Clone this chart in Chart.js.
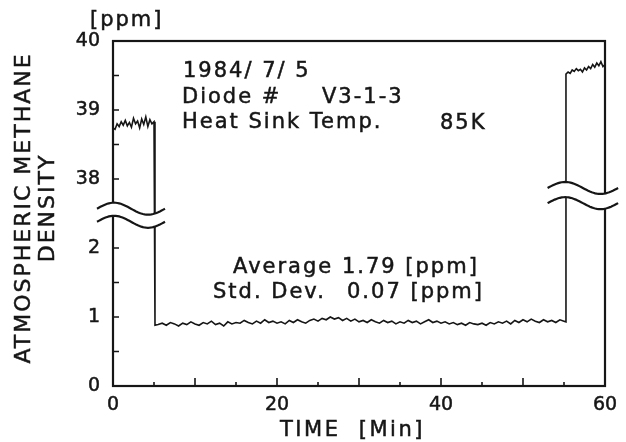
<!DOCTYPE html>
<html>
<head>
<meta charset="utf-8">
<script src="https://cdn.jsdelivr.net/npm/chart.js@4.4.1/dist/chart.umd.min.js"></script>
<style>
  html, body { margin: 0; padding: 0; background: #fff; }
  #c { display: block; }
</style>
</head>
<body>
<canvas id="c" width="626" height="442"></canvas>
<script>
// Methane trace, broken y axis (0..2.5 ppm below the break, 37.5..40 above)
const leftTime = [0, 0.25, 0.5, 0.75, 1, 1.25, 1.5, 1.75, 2, 2.25, 2.5, 2.75, 3, 3.25, 3.5, 3.75, 4, 4.25, 4.5, 4.75, 5, 5.12];
const leftPpm  = [38.74, 38.72, 38.80, 38.76, 38.83, 38.78, 38.85, 38.77, 38.82, 38.75, 38.88, 38.80, 38.84, 38.74, 38.87, 38.79, 38.90, 38.76, 38.86, 38.80, 38.83, 38.76];

const baseTime = [5.12, 5.5, 6, 6.5, 7, 7.5, 8, 8.5, 9, 9.5, 10,
  10.5, 11, 11.5, 12, 12.5, 13, 13.5, 14, 14.5, 15,
  15.5, 16, 16.5, 17, 17.5, 18, 18.5, 19, 19.5, 20,
  20.5, 21, 21.5, 22, 22.5, 23, 23.5, 24, 24.5, 25,
  25.5, 26, 26.5, 27, 27.5, 28, 28.5, 29, 29.5, 30,
  30.5, 31, 31.5, 32, 32.5, 33, 33.5, 34, 34.5, 35,
  35.5, 36, 36.5, 37, 37.5, 38, 38.5, 39, 39.5, 40,
  40.5, 41, 41.5, 42, 42.5, 43, 43.5, 44, 44.5, 45,
  45.5, 46, 46.5, 47, 47.5, 48, 48.5, 49, 49.5, 50,
  50.5, 51, 51.5, 52, 52.5, 53, 53.5, 54, 54.5, 55, 55.24];
const basePpm = [0.88, 0.89, 0.91, 0.88, 0.92, 0.90, 0.87, 0.91, 0.89, 0.93, 0.90,
  0.88, 0.92, 0.90, 0.94, 0.89, 0.91, 0.87, 0.93, 0.90, 0.92,
  0.91, 0.95, 0.92, 0.90, 0.94, 0.91, 0.96, 0.92, 0.94, 0.91,
  0.93, 0.90, 0.95, 0.92, 0.96, 0.93, 0.91, 0.95, 0.97, 0.94,
  0.98, 0.96, 1.00, 0.97, 0.99, 0.95, 0.98, 0.94, 0.97, 0.93,
  0.95, 0.92, 0.96, 0.93, 0.91, 0.95, 0.92, 0.94, 0.90, 0.93,
  0.91, 0.95, 0.92, 0.94, 0.90, 0.93, 0.96, 0.92, 0.94, 0.91,
  0.93, 0.90, 0.92, 0.89, 0.91, 0.88, 0.92, 0.90, 0.89, 0.91,
  0.88, 0.92, 0.90, 0.93, 0.91, 0.94, 0.90, 0.95, 0.92, 0.96,
  0.93, 0.97, 0.94, 0.92, 0.96, 0.93, 0.95, 0.92, 0.96, 0.94, 0.93];

const rightTime = [55.24, 55.5, 55.75, 56, 56.25, 56.5, 56.75, 57, 57.25, 57.5, 57.75, 58, 58.25, 58.5, 58.75, 59, 59.25, 59.5, 59.75, 60];
const rightPpm  = [39.52, 39.55, 39.53, 39.58, 39.56, 39.60, 39.57, 39.59, 39.55, 39.61, 39.58, 39.63, 39.60, 39.66, 39.62, 39.68, 39.64, 39.70, 39.63, 39.66];

const xTickValues = [0, 20, 40, 60];
const yTickValues = [0, 1, 2, 38, 39, 40];
const yTickLabels = ['0', '1', '2', '38', '39', '40'];
const yInnerTicks = [0.5, 1, 1.5, 2, 38, 38.5, 39, 39.5];
const xInnerTicks = [5, 10, 15, 20, 25, 30, 35, 40, 45, 50, 55];

const INK = '#161616';
const FONT = '"DejaVu Sans", sans-serif';

// ppm -> position on the broken axis (upper block shifted down by 35)
function toAxis(ppm) {
  return ppm > 20 ? ppm - 35 : ppm;
}

const points = [];
[[leftTime, leftPpm], [baseTime, basePpm], [rightTime, rightPpm]].forEach(([ts, vs]) => {
  ts.forEach((t, i) => points.push({ x: t, y: toAxis(vs[i]) }));
});

function wavePath(ctx, x0, x1, yc, amp, reverse) {
  const n = 40;
  for (let k = 0; k <= n; k++) {
    const i = reverse ? n - k : k;
    const x = x0 + (x1 - x0) * i / n;
    const y = yc - amp * Math.sin(2 * Math.PI * i / n);
    if (k === 0 && !reverse) ctx.moveTo(x, y); else ctx.lineTo(x, y);
  }
}

// scanned print looks heavy, so fill + a thin stroke
function inkText(ctx, s, x, y) {
  ctx.fillText(s, x, y);
  ctx.strokeText(s, x, y);
}

const decor = {
  id: 'decor',
  beforeDatasetsDraw(chart) {
    const { ctx, chartArea: a, scales: { x, y } } = chart;
    ctx.save();
    ctx.strokeStyle = INK;
    ctx.lineWidth = 2.2;
    ctx.strokeRect(a.left, a.top, a.right - a.left, a.bottom - a.top);
    ctx.lineWidth = 1.6;
    ctx.beginPath();
    yInnerTicks.forEach(v => {
      const py = y.getPixelForValue(toAxis(v));
      ctx.moveTo(a.left, py); ctx.lineTo(a.left + 6, py);
    });
    xInnerTicks.forEach(v => {
      const px = x.getPixelForValue(v);
      ctx.moveTo(px, a.bottom); ctx.lineTo(px, a.bottom - (v % 10 === 0 ? 8 : 4));
    });
    ctx.stroke();
    ctx.restore();
  },
  afterDatasetsDraw(chart) {
    const { ctx, scales: { x, y } } = chart;
    const breaks = [
      { t0: -1.95, t1: 6.34, uTop: 2.57, uBot: 2.38 },
      { t0: 53.0, t1: 61.6, uTop: 2.87, uBot: 2.65 },
    ];
    ctx.save();
    breaks.forEach(b => {
      const x0 = x.getPixelForValue(b.t0), x1 = x.getPixelForValue(b.t1);
      const yt = y.getPixelForValue(b.uTop), yb = y.getPixelForValue(b.uBot);
      ctx.beginPath();
      wavePath(ctx, x0, x1, yt, 6, false);
      wavePath(ctx, x0, x1, yb, 6, true);
      ctx.closePath();
      ctx.fillStyle = '#fff';
      ctx.fill();
      ctx.strokeStyle = INK;
      ctx.lineWidth = 2.2;
      ctx.beginPath(); wavePath(ctx, x0, x1, yt, 6, false); ctx.stroke();
      ctx.beginPath(); wavePath(ctx, x0, x1, yb, 6, false); ctx.stroke();
    });
    ctx.restore();
  },
  afterDraw(chart) {
    const ctx = chart.ctx;
    ctx.save();
    ctx.fillStyle = INK;
    ctx.strokeStyle = INK;
    ctx.lineWidth = 0.5;
    ctx.textBaseline = 'alphabetic';
    ctx.textAlign = 'left';
    ctx.letterSpacing = '2px';
    ctx.font = '21px ' + FONT;
    inkText(ctx, '[ppm]', 90, 26);
    inkText(ctx, '1984/ 7/ 5', 183, 77);
    inkText(ctx, 'Diode #', 182, 103);
    inkText(ctx, 'V3-1-3', 322, 103);
    inkText(ctx, 'Heat Sink Temp.', 182, 128);
    inkText(ctx, '85K', 440, 129);
    inkText(ctx, 'Average 1.79 [ppm]', 233, 273);
    inkText(ctx, 'Std. Dev.', 213, 298);
    inkText(ctx, '0.07 [ppm]', 347, 298);
    ctx.letterSpacing = '2.5px';
    inkText(ctx, 'TIME  [Min]', 280, 436);
    ctx.letterSpacing = '2px';
    ctx.font = '22px ' + FONT;
    ctx.textAlign = 'center';
    ctx.textBaseline = 'middle';
    ctx.translate(24, 208);
    ctx.rotate(-Math.PI / 2);
    inkText(ctx, 'ATMOSPHERIC METHANE', 0, 0);
    inkText(ctx, 'DENSITY', 0, 24);
    ctx.restore();
  }
};

new Chart(document.getElementById('c'), {
  type: 'line',
  data: {
    datasets: [{
      data: points,
      borderColor: INK,
      borderWidth: 1.6,
      pointRadius: 0,
      tension: 0,
      fill: false,
    }],
  },
  options: {
    responsive: false,
    animation: false,
    devicePixelRatio: 1,
    layout: { padding: { top: 41, right: 21, left: 0, bottom: 0 } },
    plugins: { legend: { display: false }, tooltip: { enabled: false } },
    scales: {
      x: {
        type: 'linear', min: 0, max: 60,
        grid: { display: false, drawTicks: false },
        border: { display: false },
        afterBuildTicks: s => { s.ticks = xTickValues.map(v => ({ value: v })); },
        afterFit: s => { s.height = 56; },
        ticks: { padding: 8, color: INK, autoSkip: false, maxRotation: 0,
                 textStrokeColor: INK, textStrokeWidth: 0.5,
                 font: { family: FONT, size: 19 }, callback: v => String(v) },
      },
      y: {
        type: 'linear', min: 0, max: 5,
        grid: { display: false, drawTicks: false },
        border: { display: false },
        afterBuildTicks: s => { s.ticks = yTickValues.map(v => ({ value: toAxis(v) })); },
        afterFit: s => { s.width = 113; },
        ticks: { padding: 13, color: INK, autoSkip: false,
                 textStrokeColor: INK, textStrokeWidth: 0.5,
                 font: { family: FONT, size: 19 }, callback: (v, i) => yTickLabels[i] },
      },
    },
  },
  plugins: [decor],
});
</script>
</body>
</html>
